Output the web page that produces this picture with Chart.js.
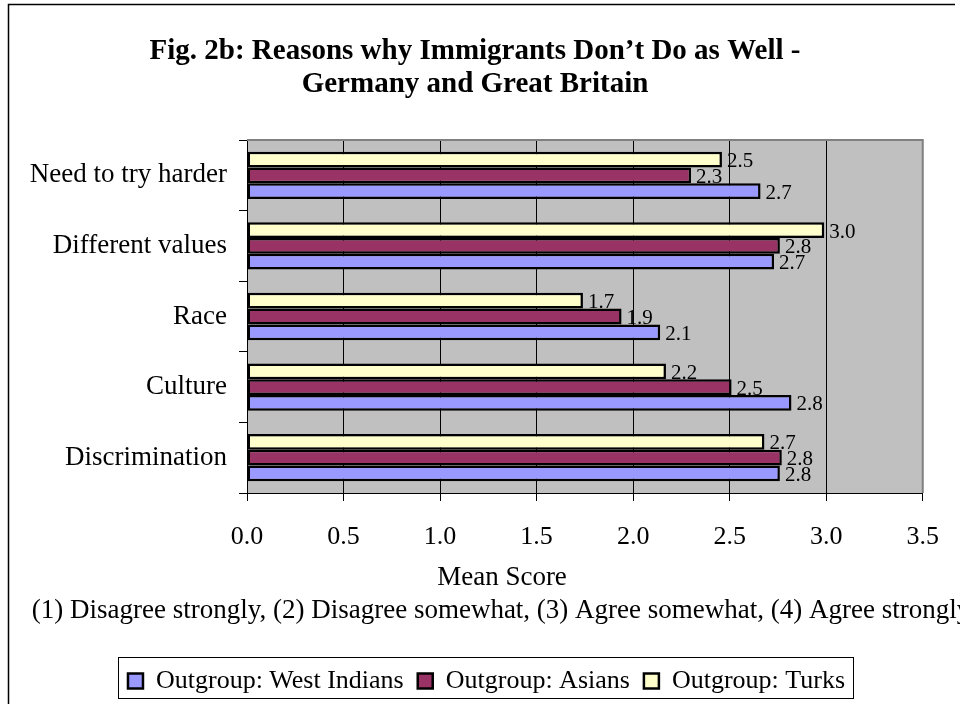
<!DOCTYPE html>
<html>
<head>
<meta charset="utf-8">
<script src="https://cdn.jsdelivr.net/npm/chart.js@4.4.0/dist/chart.umd.min.js"></script>
<style>
  html, body { margin: 0; padding: 0; background: #fff; }
</style>
</head>
<body>
<canvas id="chart" width="960" height="704"></canvas>
<script>
const categories = ['Need to try harder', 'Different values', 'Race', 'Culture', 'Discrimination'];
const westIndians = [2.66, 2.73, 2.14, 2.82, 2.76];
const asians = [2.30, 2.76, 1.94, 2.51, 2.77];
const turks = [2.46, 2.99, 1.74, 2.17, 2.68];
const xTicks = [0, 0.5, 1, 1.5, 2, 2.5, 3, 3.5];
const xTickLabels = ['0.0', '0.5', '1.0', '1.5', '2.0', '2.5', '3.0', '3.5'];
const titleLines = ['Fig. 2b: Reasons why Immigrants Don\u2019t Do as Well -', 'Germany and Great Britain'];
const axisCaption = 'Mean Score';
const scaleNote = '(1) Disagree strongly, (2) Disagree somewhat, (3) Agree somewhat, (4) Agree strongly';

const FONT = '"Liberation Serif", "Times New Roman", serif';
Chart.defaults.font.family = FONT;
Chart.defaults.color = '#000';

// frame, plot background and the texts Excel puts outside the plot
const decor = {
    id: 'decor',
    afterLayout(chart) {
        // legend sits a little right of the centre of the whole chart
        chart.legend.left += 15;
        chart.legend.right += 15;
    },
    beforeDraw(chart) {
        const { ctx, chartArea: a } = chart;
        ctx.save();
        ctx.fillStyle = '#fff';
        ctx.fillRect(0, 0, chart.width, chart.height);
        ctx.fillStyle = '#c0c0c0';
        ctx.fillRect(a.left, a.top, a.right - a.left, a.bottom - a.top);
        ctx.restore();
    },
    afterDraw(chart) {
        const { ctx, chartArea: a } = chart;
        ctx.save();
        // outer frame (right side falls outside the picture)
        ctx.strokeStyle = '#000';
        ctx.lineWidth = 1.5;
        ctx.beginPath();
        ctx.moveTo(8.5, chart.height);
        ctx.lineTo(8.5, 4.5);
        ctx.lineTo(955, 4.5);
        ctx.stroke();

        // plot top / right edge
        ctx.strokeStyle = '#808080';
        ctx.lineWidth = 2;
        ctx.beginPath();
        ctx.moveTo(a.left, a.top);
        ctx.lineTo(a.right, a.top);
        ctx.lineTo(a.right, a.bottom);
        ctx.stroke();

        ctx.fillStyle = '#000';
        ctx.textAlign = 'center';
        ctx.textBaseline = 'middle';
        ctx.font = 'bold 29px ' + FONT;
        ctx.fillText(titleLines[0], 475, 52);
        ctx.fillText(titleLines[1], 475, 85);

        ctx.font = '27px ' + FONT;
        ctx.fillText(axisCaption, 502, 578);
        ctx.fillText(scaleNote, 501, 611);

        // box round the legend
        const hb = chart.legend.legendHitBoxes;
        if (hb && hb.length) {
            const first = hb[0], last = hb[hb.length - 1];
            const cy = first.top + first.height / 2;
            const x0 = Math.round(first.left - 10);
            const x1 = Math.round(last.left + last.width + 8);
            ctx.strokeStyle = '#000';
            ctx.lineWidth = 1;
            ctx.strokeRect(x0 + 0.5, Math.round(cy - 24) + 0.5, x1 - x0, 41);
        }
        ctx.restore();
    },
    afterDatasetsDraw(chart) {
        const { ctx } = chart;
        ctx.save();
        ctx.font = '21px ' + FONT;
        ctx.fillStyle = '#000';
        ctx.textAlign = 'left';
        ctx.textBaseline = 'middle';
        chart.data.datasets.forEach((ds, i) => {
            chart.getDatasetMeta(i).data.forEach((bar, j) => {
                ctx.fillText(ds.data[j].toFixed(1), bar.x + 5, bar.y + 2);
            });
        });
        ctx.restore();
    }
};

new Chart(document.getElementById('chart'), {
    type: 'bar',
    data: {
        labels: categories,
        datasets: [
            {
                label: 'Outgroup: Turks',
                data: turks,
                backgroundColor: '#ffffcc',
                borderColor: '#000',
                borderWidth: 2.5,
                borderSkipped: false
            },
            {
                label: 'Outgroup: Asians',
                data: asians,
                backgroundColor: '#993366',
                borderColor: '#000',
                borderWidth: 2.5,
                borderSkipped: false
            },
            {
                label: 'Outgroup: West Indians',
                data: westIndians,
                backgroundColor: '#9999ff',
                borderColor: '#000',
                borderWidth: 2.5,
                borderSkipped: false
            }
        ]
    },
    options: {
        indexAxis: 'y',
        responsive: false,
        animation: false,
        categoryPercentage: 0.67,
        barPercentage: 1.0,
        layout: { padding: { top: 140, left: 20, right: 37, bottom: 0 } },
        scales: {
            x: {
                min: 0,
                max: 3.5,
                afterBuildTicks: scale => { scale.ticks = xTicks.map(v => ({ value: v })); },
                afterFit: scale => { scale.height = 161; },
                ticks: {
                    callback: (v, i) => xTickLabels[i],
                    font: { size: 26 },
                    color: '#000',
                    padding: 21,
                    maxRotation: 0
                },
                grid: {
                    color: ctx => (ctx.tick && ctx.tick.value === 3.5) ? '#808080' : '#000',
                    lineWidth: 1,
                    tickLength: 8,
                    tickColor: '#000'
                },
                border: { color: '#000', width: 1 }
            },
            y: {
                afterFit: scale => { scale.width = 227; },
                ticks: { font: { size: 27 }, color: '#000', padding: 12 },
                grid: { drawOnChartArea: false, tickLength: 8, color: '#000' },
                border: { color: '#000', width: 1 }
            }
        },
        plugins: {
            legend: {
                position: 'bottom',
                reverse: true,
                labels: {
                    boxWidth: 15,
                    boxHeight: 15,
                    padding: 14,
                    color: '#000',
                    font: { size: 26 }
                }
            },
            title: { display: false },
            tooltip: { enabled: false }
        }
    },
    plugins: [decor]
});
</script>
</body>
</html>
